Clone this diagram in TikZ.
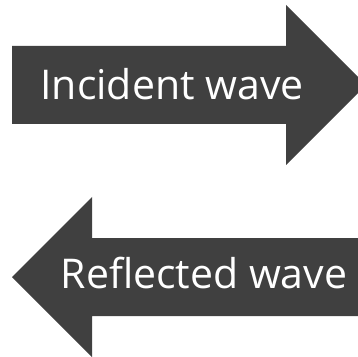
\documentclass[tikz,border=0pt]{standalone}
\usepackage{fontspec}
\setmainfont{Open Sans}
\usetikzlibrary{positioning}
\definecolor{arrowgray}{RGB}{64,64,64}
\tikzset{
  wave/.style={fill=arrowgray, draw=none},
  lbl/.style={text=white, font=\fontsize{41}{48}\selectfont, inner sep=0pt, anchor=base}
}

\begin{document}
\begin{tikzpicture}[x=1pt, y=1pt]
    \useasboundingbox (0,0) rectangle (358,356);
    \clip (0,0) rectangle (358,356);

    % incident arrow, pointing right
    \fill[wave] (12,310) -- (286,310) -- (286,351) -- (366,271) -- (286,191) -- (286,232) -- (12,232) -- cycle;
    % reflected arrow, pointing left
    \fill[wave] (370,118) -- (92,118) -- (92,159) -- (12,79) -- (92,-1) -- (92,40) -- (370,40) -- cycle;

    \node[lbl] (incident) at (172,256) {Incident wave};
    \node[lbl] (reflected) at (204,68) {Reflected wave};
  \end{tikzpicture}
\end{document}
